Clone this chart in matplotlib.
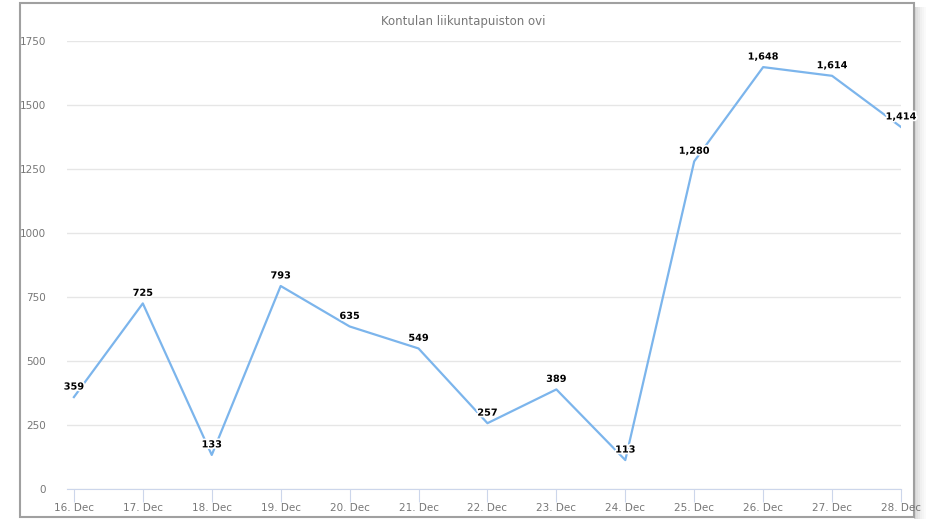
import matplotlib.pyplot as plt
import matplotlib.patheffects as pe
from matplotlib.patches import Rectangle

# Daten
days = ['16. Dec', '17. Dec', '18. Dec', '19. Dec', '20. Dec', '21. Dec', '22. Dec',
        '23. Dec', '24. Dec', '25. Dec', '26. Dec', '27. Dec', '28. Dec']
visits = [359, 725, 133, 793, 635, 549, 257, 389, 113, 1280, 1648, 1614, 1414]
y_ticks = [0, 250, 500, 750, 1000, 1250, 1500, 1750]
title = 'Kontulan liikuntapuiston ovi'

plt.rcParams['font.family'] = ['DejaVu Sans']

fig = plt.figure(figsize=(9.27, 5.19), dpi=100)

# Kartenrahmen mit Schatten rechts
for i, a in enumerate([0.16, 0.12, 0.09, 0.06, 0.04, 0.02]):
    fig.patches.append(Rectangle(((914 + i * 2) / 927, 0), 2 / 927, (516 - 4) / 519,
                                 transform=fig.transFigure, facecolor='black',
                                 alpha=a, edgecolor='none', zorder=0))
fig.patches.append(Rectangle((20 / 927, 2 / 519), 894 / 927, 514 / 519,
                             transform=fig.transFigure, facecolor='white',
                             edgecolor='#a0a0a0', linewidth=1.5, zorder=1))

ax = fig.add_axes([67 / 927, 30 / 519, 834 / 927, 448 / 519])
ax.set_zorder(2)
ax.patch.set_alpha(0)

x = list(range(len(days)))
ax.plot(x, visits, color='#7cb5ec', linewidth=1.6, zorder=3)

for xi, v in zip(x, visits):
    ax.annotate(f'{v:,}', (xi, v), xytext=(0, 4), textcoords='offset points',
                ha='center', va='bottom', fontsize=7, fontweight='bold', color='black',
                path_effects=[pe.withStroke(linewidth=2.5, foreground='white')], zorder=4)

ax.set_xlim(-0.1, 12)
ax.set_ylim(0, 1750)
ax.set_yticks(y_ticks)
ax.set_yticklabels([str(t) for t in y_ticks])
ax.set_xticks(x)
ax.set_xticklabels(days)

ax.grid(axis='y', color='#e6e6e6', linewidth=1)
ax.set_axisbelow(True)
for s in ['top', 'right', 'left']:
    ax.spines[s].set_visible(False)
ax.spines['bottom'].set_color('#ccd6eb')
ax.tick_params(axis='y', length=0, labelsize=7.5, labelcolor='#777777', pad=15)
ax.tick_params(axis='x', length=9, color='#ccd6eb', labelsize=7.5, labelcolor='#777777', pad=1)

fig.text(0.5, 1 - 22 / 519, title, ha='center', va='center', fontsize=8.5, color='#777777')

plt.savefig('out.png', dpi=100)
